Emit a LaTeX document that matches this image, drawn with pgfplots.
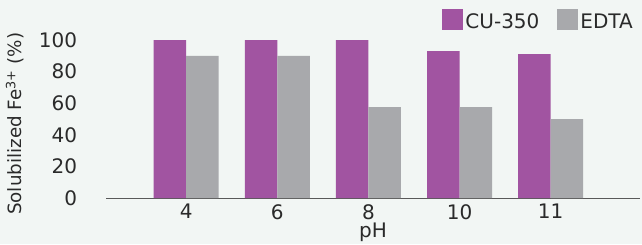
\documentclass[border=0pt]{standalone}
\usepackage{pgfplots}
\pgfplotsset{compat=1.18}
\usepackage{fontspec}
\setmainfont{DejaVu Sans}
\definecolor{bg}{HTML}{F2F6F4}
\definecolor{cupurple}{HTML}{A154A1}
\definecolor{edtagray}{HTML}{A8A9AC}
\definecolor{txt}{HTML}{2A2A2A}
\begin{document}
\fontsize{20}{24}\selectfont
\begin{tikzpicture}
\fill[bg] (0,0) rectangle (642pt,244pt);
\useasboundingbox (0,0) rectangle (642pt,244pt);
\begin{axis}[
  at={(106pt,46pt)}, anchor=south west,
  scale only axis, width=534pt, height=158pt,
  ymin=0, ymax=100, xmin=-0.88, xmax=4.98,
  ybar=0pt, bar width=32.5pt,
  axis x line*=bottom, axis y line*=left,
  x axis line style={draw=black!65, line width=0.8pt, -},
  y axis line style={draw=none},
  xtick=data, xticklabels={4,6,8,10,11},
  ytick={0,20,40,60,80,100},
  major tick length=0pt,
  /pgf/number format/assume math mode=true,
  tick label style={font=\fontsize{20}{24}\selectfont, text=txt},
  xticklabel style={inner ysep=0pt, yshift=-6pt, text depth=0pt},
  yticklabel style={xshift=-22pt},
  xlabel={pH}, xlabel style={font=\fontsize{20}{24}\selectfont, text=txt, inner ysep=0pt, yshift=-4pt},
  ylabel={Solubilized Fe\textsuperscript{3+} (\%)},
  ylabel style={font=\fontsize{18.3}{22}\selectfont, text=txt, at={(axis description cs:0,0.47)}, anchor=center, yshift=91pt},
  legend style={at={(1,1)}, anchor=south east, draw=none, fill=none, font=\fontsize{20}{24}\selectfont, text=txt, legend columns=2, yshift=4pt, xshift=-2pt,
    /tikz/every even column/.append style={column sep=16pt},
    nodes={inner xsep=2pt}},
  legend image code/.code={\fill[#1] (-5pt,-7pt) rectangle (16pt,14pt);},
]
\addplot[fill=cupurple, draw=none] coordinates {(0,100) (1,100) (2,100) (3,93) (4,91)};
\addplot[fill=edtagray, draw=none] coordinates {(0,90) (1,90) (2,57.5) (3,57.5) (4,50)};
\legend{CU-350, EDTA}
\end{axis}
\end{tikzpicture}
\end{document}
